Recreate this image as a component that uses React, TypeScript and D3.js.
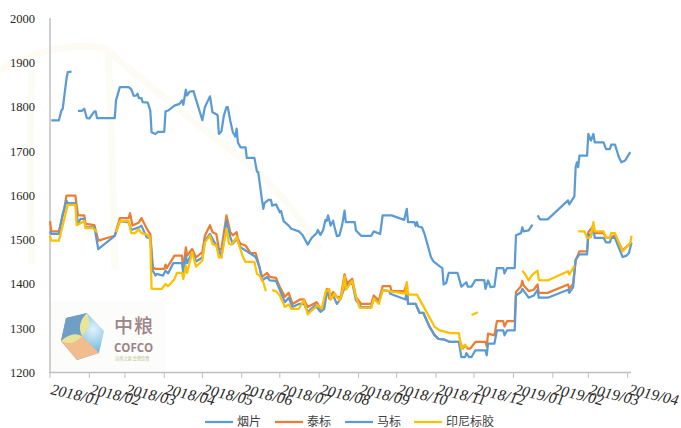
import * as d3 from "d3";

type Point = [number, number | null];

const width = 681;
const height = 428;

// x values are days counted from 2018-01-01, null marks a gap in the line
const yanpian: Point[] = [
  [1, 1770], [7, 1770], [9, 1792], [10, 1796], [13, 1864], [14, 1879], [17, 1880], [18, null],
  [22, 1791], [25, 1791], [27, 1796], [29, 1775], [31, 1774], [35, 1790], [36, 1790], [37, 1775],
  [51, 1775], [52, 1815], [55, 1845], [62, 1845], [64, 1840], [66, 1825], [68, 1826], [69, 1830],
  [70, 1820], [72, 1820], [73, 1811], [77, 1810], [79, 1792], [80, 1743], [83, 1739], [85, 1744],
  [90, 1744], [91, 1790], [93, 1792], [98, 1803], [102, 1807], [104, 1815], [105, 1805], [107, 1839],
  [108, 1826], [110, 1835], [113, 1836], [120, 1770], [122, 1800], [126, 1824], [128, 1788], [132, 1782],
  [133, 1739], [135, 1745], [137, 1781], [139, 1800], [140, 1800], [142, 1769], [144, 1743], [146, 1733],
  [147, 1751], [148, 1720], [150, 1709], [154, 1709], [155, 1685], [161, 1685], [163, 1654], [164, 1653],
  [167, 1589], [168, 1570], [169, 1583], [172, 1590], [174, 1590], [175, 1577], [178, 1580], [181, 1562],
  [182, 1565], [184, 1542], [188, 1532], [190, 1525], [196, 1519], [199, 1510], [203, 1489], [206, 1504],
  [210, 1515], [211, 1522], [213, 1511], [215, 1521], [217, 1545], [218, 1543], [219, 1555], [221, 1532],
  [223, 1543], [224, 1530], [226, 1508], [228, 1510], [230, 1532], [232, 1566], [233, 1540], [240, 1540],
  [241, 1521], [245, 1509], [253, 1509], [255, 1519], [260, 1513], [262, 1555], [269, 1555], [279, 1545],
  [281, 1570], [282, 1540], [287, 1540], [288, 1531], [289, 1540], [290, 1530], [293, 1528], [295, 1513],
  [297, 1493], [300, 1461], [302, 1451], [307, 1440], [309, 1436], [310, 1399], [312, 1402], [314, 1425],
  [321, 1425], [324, 1394], [328, 1404], [329, 1394], [332, 1394], [335, 1409], [342, 1409], [343, 1389],
  [345, 1408], [347, 1393], [350, 1394], [352, 1436], [357, 1436], [358, 1424], [360, 1436], [366, 1436],
  [367, 1510], [371, 1515], [372, 1528], [373, 1519], [377, 1521], [380, 1534], [381, null],
  [384, 1555], [386, 1546], [392, 1546], [408, 1589], [409, 1580], [413, 1598], [414, 1664], [415, 1675],
  [416, 1664], [417, 1690], [423, 1690], [424, 1739], [426, 1724], [428, 1739], [429, 1720], [436, 1720],
  [438, 1705], [441, 1705], [442, 1715], [445, 1715], [448, 1687], [450, 1675], [453, 1679], [457, 1698],
];

const taibiao: Point[] = [
  [0, 1542], [1, 1519], [7, 1519], [11, 1566], [13, 1600], [20, 1600], [22, 1555], [27, 1555],
  [28, 1536], [35, 1533], [38, 1498], [51, 1509], [55, 1549], [62, 1549], [63, 1560], [65, 1532],
  [70, 1539], [72, 1549], [77, 1521], [79, 1513], [81, 1438], [83, 1434], [90, 1434], [91, 1444],
  [92, 1436], [98, 1464], [104, 1464], [105, 1430], [107, 1483], [108, 1464], [112, 1479], [115, 1460],
  [120, 1472], [122, 1509], [126, 1533], [128, 1517], [131, 1513], [133, 1479], [135, 1479], [139, 1555],
  [142, 1517], [144, 1510], [147, 1517], [148, 1502], [150, 1491], [154, 1487], [158, 1470], [162, 1470],
  [164, 1449], [167, 1416], [171, 1425], [173, 1416], [178, 1414], [181, 1393], [185, 1371], [188, 1380],
  [191, 1355], [197, 1365], [200, 1365], [203, 1348], [210, 1359], [213, 1344], [215, 1346], [218, 1389],
  [220, 1367], [223, 1382], [226, 1371], [229, 1371], [232, 1422], [234, 1401], [238, 1412], [241, 1371],
  [245, 1355], [253, 1355], [255, 1374], [259, 1363], [262, 1395], [268, 1395], [269, 1384], [279, 1384],
  [281, 1401], [282, 1355], [288, 1355], [291, 1335], [294, 1335], [299, 1303], [303, 1284], [306, 1276],
  [310, 1275], [315, 1269], [323, 1269], [325, 1254], [327, 1261], [329, 1254], [331, 1254], [335, 1269],
  [343, 1269], [344, 1259], [345, 1288], [350, 1284], [352, 1316], [357, 1316], [358, 1304], [360, 1316],
  [366, 1316], [367, 1382], [371, 1395], [372, 1407], [373, 1397], [377, 1384], [381, 1387], [384, 1399],
  [385, 1380], [392, 1380], [408, 1399], [409, 1389], [412, 1401], [414, 1453], [417, 1474], [423, 1474],
  [424, 1517], [428, 1532], [429, 1515], [436, 1515], [438, 1504], [441, 1504], [445, 1510], [451, 1476],
  [458, 1494],
];

const mabiao: Point[] = [
  [0, 1519], [1, 1513], [7, 1513], [10, 1558], [13, 1588], [14, 1583], [20, 1583], [22, 1536],
  [24, 1547], [27, 1547], [28, 1528], [35, 1528], [38, 1479], [51, 1509], [55, 1542], [62, 1539],
  [64, 1522], [70, 1528], [72, 1532], [76, 1506], [79, 1503], [81, 1430], [83, 1419], [84, 1423],
  [89, 1419], [91, 1430], [93, 1424], [97, 1447], [104, 1447], [105, 1423], [107, 1464], [108, 1447],
  [112, 1472], [115, 1451], [120, 1460], [122, 1498], [126, 1513], [128, 1502], [131, 1487], [133, 1479],
  [135, 1460], [139, 1543], [142, 1506], [144, 1491], [147, 1502], [150, 1483], [156, 1472], [162, 1461],
  [165, 1438], [167, 1408], [171, 1416], [173, 1408], [178, 1407], [181, 1386], [185, 1359], [188, 1369],
  [191, 1348], [196, 1355], [200, 1355], [203, 1337], [209, 1352], [213, 1337], [216, 1344], [218, 1380],
  [220, 1374], [223, 1374], [226, 1355], [229, 1367], [232, 1393], [238, 1404], [241, 1363], [245, 1348],
  [253, 1348], [255, 1367], [259, 1359], [262, 1386], [267, 1384], [268, 1378], [280, 1365], [281, 1386],
  [282, 1355], [288, 1355], [291, 1335], [294, 1335], [299, 1303], [303, 1284], [306, 1276], [310, 1275],
  [315, 1269], [322, 1269], [324, 1235], [327, 1235], [328, 1244], [330, 1235], [332, 1235], [335, 1250],
  [343, 1250], [344, 1239], [345, 1265], [350, 1265], [352, 1295], [357, 1295], [358, 1284], [360, 1295],
  [366, 1295], [367, 1374], [371, 1382], [372, 1389], [377, 1369], [381, 1374], [384, 1387], [385, 1369],
  [392, 1369], [408, 1387], [409, 1380], [412, 1393], [414, 1455], [417, 1467], [423, 1467], [424, 1513],
  [426, 1507], [428, 1532], [429, 1504], [436, 1504], [438, 1494], [441, 1494], [442, 1504], [445, 1504],
  [451, 1461], [454, 1464], [456, 1470], [458, 1494],
];

const yinni: Point[] = [
  [0, 1509], [1, 1498], [7, 1498], [10, 1532], [14, 1579], [20, 1579], [21, 1533], [25, 1539],
  [27, 1543], [28, 1526], [34, 1526], [37, 1517], [38, null],
  [52, 1517], [55, 1542], [62, 1542], [64, 1515], [67, 1515], [70, 1524], [72, 1515], [77, 1511],
  [79, 1502], [80, 1389], [88, 1389], [91, 1400], [93, 1395], [98, 1411], [100, 1425], [104, 1425],
  [105, 1411], [107, 1441], [108, 1425], [112, 1472], [115, 1439], [120, 1453], [122, 1494], [126, 1509],
  [128, 1490], [131, 1487], [133, 1460], [135, 1460], [139, 1525], [141, 1491], [143, 1489], [147, 1506],
  [149, 1487], [152, 1461], [154, 1450], [161, 1450], [163, 1423], [165, 1419], [168, 1404], [170, 1384],
  [172, null],
  [175, 1386], [178, 1384], [181, 1374], [185, 1348], [188, 1354], [190, 1344], [196, 1344], [200, 1363],
  [203, 1331], [206, 1340], [211, 1352], [214, 1344], [217, 1382], [220, 1389], [221, 1364], [224, 1378],
  [228, 1363], [230, 1378], [232, 1417], [233, 1387], [238, 1407], [241, 1371], [244, 1346], [253, 1346],
  [255, 1367], [259, 1355], [262, 1386], [280, 1378], [281, 1404], [282, 1376], [289, 1376], [293, 1355],
  [298, 1329], [303, 1303], [307, 1295], [315, 1289], [322, 1289], [324, 1254], [327, 1263], [329, 1256],
  [330, null],
  [332, 1330], [337, 1336], [338, null],
  [372, 1430], [374, 1423], [377, 1408], [380, 1421], [384, 1430], [385, 1409], [392, 1408], [408, 1429],
  [409, 1421], [413, 1442], [414, null],
  [416, 1519], [421, 1519], [423, 1504], [426, 1506], [428, 1540], [429, 1519], [436, 1519], [438, 1504],
  [441, 1504], [442, 1515], [445, 1515], [448, 1494], [451, 1474], [455, 1487], [457, 1492], [458, 1509],
];

const yTicks = [1200, 1300, 1400, 1500, 1600, 1700, 1800, 1900, 2000];
const monthLabels = [
  "2018/01", "2018/02", "2018/03", "2018/04", "2018/05", "2018/06", "2018/07", "2018/08",
  "2018/09", "2018/10", "2018/11", "2018/12", "2019/01", "2019/02", "2019/03", "2019/04",
];

const series = [
  { name: "烟片", data: yanpian, color: "#5b9bd5" },
  { name: "泰标", data: taibiao, color: "#ed7d31" },
  { name: "马标", data: mabiao, color: "#5b9bd5" },
  { name: "印尼标胶", data: yinni, color: "#ffc000" },
];

const legendSlots = [205, 275, 345, 414];

const start = new Date(Date.UTC(2018, 0, 1));
const toDate = (day: number) => d3.utcDay.offset(start, day);

const x = d3
  .scaleUtc()
  .domain([start, new Date(Date.UTC(2019, 3, 1))])
  .range([50, 627.7]);
const y = d3.scaleLinear().domain([1200, 2000]).range([372.5, 18.5]);

const line = d3
  .line<Point>()
  .defined((d) => d[1] !== null)
  .x((d) => x(toDate(d[0])))
  .y((d) => y(d[1] as number));

const serif = '"Liberation Serif", serif';
const cjk = '"Noto Sans CJK SC", sans-serif';

const Logo = () => (
  <g>
    <rect x={51} y={302} width={115} height={69} fill="#fcfcfb" />
    <path d="M87 313L104 331L99 353L77 360L61 341L66 318Z" fill="url(#cube)" />
    <path d="M61 341L82 336L99 353L77 360Z" fill="#f2bd8e" />
    <path d="M66 318L87 313L82 336L61 341Z" fill="#6f9fc4" />
    <path d="M87 313Q93 325 82 336Q76 324 87 313Z" fill="#e8e59a" />
    <path d="M61 341Q72 331 82 336Q72 347 61 341Z" fill="#e8e59a" />
    <text x={114} y={333} fontFamily={cjk} fontSize={19} fontWeight={500} fill="#9c8487" letterSpacing={1}>
      中粮
    </text>
    <text x={114} y={351.5} fontFamily='"Open Sans", sans-serif' fontSize={11.5} fontWeight={700} fill="#9c8487">
      COFCO
    </text>
    <text x={115} y={360} fontFamily={cjk} fontSize={4.2} fill="#b5c28c">
      自然之源 重塑饮食
    </text>
  </g>
);

export default function App() {
  return (
    <svg
      width={width}
      height={height}
      style={{ position: "absolute", left: 0, top: 0, background: "#fff" }}
    >
      <defs>
        <radialGradient id="cube" cx="0.75" cy="0.35" r="0.8">
          <stop offset="0" stopColor="#e3f3fb" />
          <stop offset="0.5" stopColor="#86c3e4" />
          <stop offset="1" stopColor="#5b93bb" />
        </radialGradient>
      </defs>

      {/* faint watermark behind the plot */}
      <g fill="none" stroke="#fcfcf5" strokeWidth={7}>
        <path d="M0 70Q55 40 105 48Q165 100 250 165Q290 200 320 250" />
        <path d="M108 48Q112 140 115 270" />
        <path d="M32 70Q28 150 32 265" />
      </g>

      <Logo />

      <line x1={50} x2={50} y1={18} y2={373} stroke="#bfbfbf" strokeWidth={1.5} />
      <line x1={50} x2={631} y1={372.5} y2={372.5} stroke="#bfbfbf" strokeWidth={1.5} />

      {yTicks.map((t) => (
        <text
          key={t}
          x={35}
          y={y(t)}
          dy="0.35em"
          textAnchor="end"
          fontFamily={serif}
          fontSize={12.5}
          fill="#262626"
        >
          {t}
        </text>
      ))}

      {monthLabels.map((label, i) => {
        const tx = x(new Date(Date.UTC(2018, i, 1)));
        return (
          <g key={label}>
            <line x1={tx} x2={tx} y1={372} y2={378} stroke="#bfbfbf" />
            <text
              transform={`translate(${tx},394) rotate(13)`}
              fontFamily={serif}
              fontStyle="italic"
              fontSize={15.5}
              fill="#262626"
            >
              {label}
            </text>
          </g>
        );
      })}

      {series.map((s) => (
        <path
          key={s.name}
          d={line(s.data) ?? ""}
          fill="none"
          stroke={s.color}
          strokeWidth={2.25}
          strokeLinejoin="round"
        />
      ))}

      {series.map((s, i) => (
        <g key={s.name} transform={`translate(${legendSlots[i]},422)`}>
          <line x1={0} x2={28} stroke={s.color} strokeWidth={2.25} />
          <text x={32} dy="0.35em" fontFamily={cjk} fontSize={12} fill="#404040">
            {s.name}
          </text>
        </g>
      ))}
    </svg>
  );
}
